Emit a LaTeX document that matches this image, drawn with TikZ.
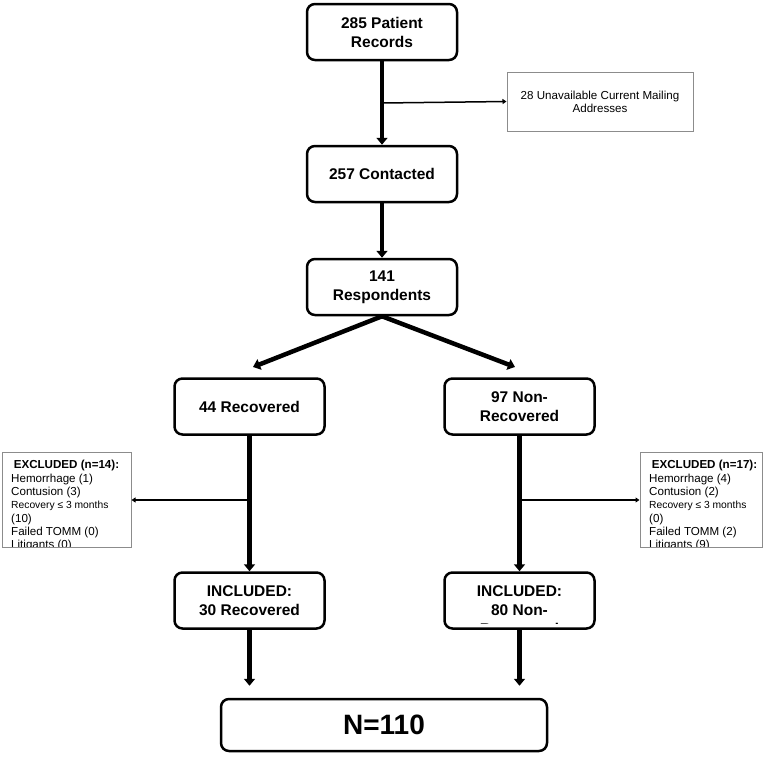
\documentclass[tikz,border=0pt]{standalone}
\usepackage{fontspec}
\setmainfont{Liberation Sans}
\usepackage{xcolor}
\usepackage{tikz}
\usetikzlibrary{arrows.meta}
\definecolor{boxgray}{RGB}{140,140,140}

\begin{document}
\begin{tikzpicture}[x=1pt,y=-1pt,
box/.style={draw,line width=2.5pt,rounded corners=8pt,minimum width=150pt,minimum height=56pt,align=center,font=\fontsize{15.5}{19}\selectfont\bfseries},
note/.style={draw=boxgray,line width=1pt,inner sep=0pt},
main/.style={line width=4.5pt,-{Triangle[length=7pt,width=11pt]}},
side/.style={line width=1.5pt,-{Triangle[length=4pt,width=5pt]}}]
\useasboundingbox(0,0)rectangle(771,756);
% main boxes
\node[box](rec)at(382,32){285 Patient\\Records};
\node[box](con)at(382,174){257 Contacted};
\node[box](resp)at(382,287){141\\Respondents};
\node[box](recov)at(249.5,406.5){44 Recovered};
\node[box](nonrec)at(519.5,406.5){97 Non-\\Recovered};
\node[box](inrec)at(249.5,600.5){INCLUDED:\\30 Recovered};
\node[box](innon)at(519.5,600.5){};
\begin{scope}
\clip(443,571)rectangle(596,623);
\node[align=center,font=\fontsize{15.5}{19}\selectfont\bfseries](innontext)at(519.5,610){INCLUDED:\\80 Non-\\Recovered};
\end{scope}
\node[box,minimum width=326pt,minimum height=52pt,font=\fontsize{28}{32}\selectfont\bfseries](total)at(384,725){N=110};
% side boxes
\node[note,minimum width=186pt,minimum height=59pt,align=center,font=\fontsize{11.6}{13}\selectfont](unavail)at(600,101.5){28 Unavailable Current Mailing\\Addresses};
\node[note,minimum width=129pt,minimum height=95pt](exl)at(66.5,500){};
\begin{scope}
\clip(2,453)rectangle(131,546);
\node[font=\fontsize{11.6}{13}\selectfont\bfseries](exlhead)at(66.5,465){EXCLUDED (n=14):};
\node[anchor=north west,align=left,inner sep=0pt,font=\fontsize{11.6}{13.3}\selectfont](exllist)at(11,473.5){Hemorrhage (1)\\Contusion (3)\\{\fontsize{10.3}{12}\selectfont Recovery ≤ 3 months}\\(10)\\Failed TOMM (0)\\Litigants (0)};
\end{scope}
\node[note,minimum width=122pt,minimum height=95pt](exr)at(701,500){};
\begin{scope}
\clip(640,453)rectangle(762,546);
\node[font=\fontsize{11.6}{13}\selectfont\bfseries](exrhead)at(704.5,465){EXCLUDED (n=17):};
\node[anchor=north west,align=left,inner sep=0pt,font=\fontsize{11.6}{13.3}\selectfont](exrlist)at(649,473.5){Hemorrhage (4)\\Contusion (2)\\{\fontsize{10.3}{12}\selectfont Recovery ≤ 3 months}\\(0)\\Failed TOMM (2)\\Litigants (9)};
\end{scope}
% connectors
\coordinate(m1)at(382,103);
\coordinate(tl)at(253,367);
\coordinate(tr)at(515,367);
\coordinate(m2)at(249.5,500);
\coordinate(m3)at(519.5,500);
\draw[main](rec)--(con);
\draw[side](m1)--(unavail.west);
\draw[main](con)--(resp);
\draw[main](resp.south)--(tl);
\draw[main](resp.south)--(tr);
\draw[main](recov)--(inrec);
\draw[side](m2)--(exl.east);
\draw[main](nonrec)--(innon);
\draw[side](m3)--(exr.west);
\draw[main,shorten >=12pt](inrec)--(inrec|-total.north);
\draw[main,shorten >=12pt](innon)--(innon|-total.north);
\end{tikzpicture}
\end{document}
